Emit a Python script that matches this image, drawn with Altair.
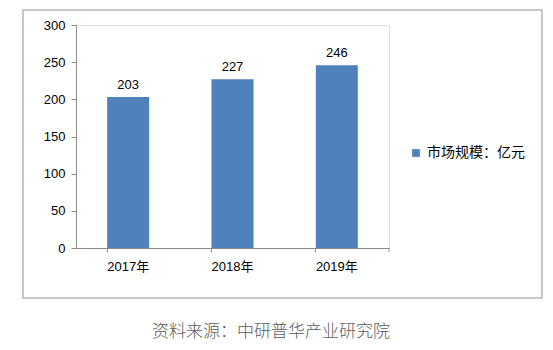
import altair as alt
import pandas as pd

years = ["2017年", "2018年", "2019年"]
values = [203, 227, 246]
series_name = "市场规模：亿元"
source_note = "资料来源：中研普华产业研究院"
y_ticks = [0, 50, 100, 150, 200, 250, 300]

df = pd.DataFrame({"year": years, "value": values, "series": [series_name] * 3})

FONT = "Liberation Sans, Noto Sans CJK SC, sans-serif"
CJK = "Noto Sans CJK SC"

base = alt.Chart(df)

x_enc = alt.X("year:N", sort=years, title=None,
              scale=alt.Scale(paddingInner=0.6, paddingOuter=0.3),
              axis=alt.Axis(labelAngle=0, labelFontSize=13, labelColor="#000000",
                            labelFont=FONT, labelPadding=8, domainColor="#8c8c8c",
                            tickColor="#8c8c8c", tickSize=4, bandPosition=0,
                            grid=False))
y_enc = alt.Y("value:Q", title=None,
              scale=alt.Scale(domain=[0, 300], nice=False),
              axis=alt.Axis(values=y_ticks, tickCount=7, labelOverlap=False,
                            labelFontSize=13, labelColor="#000000", labelFont=FONT,
                            labelPadding=6, domainColor="#8c8c8c",
                            tickColor="#8c8c8c", tickSize=5, grid=False))

frame = alt.Chart(pd.DataFrame({"a": [0]})).mark_rect(
    fill=None, stroke="#b5b5b5", strokeWidth=1.5
).encode(x=alt.value(-53), x2=alt.value(466), y=alt.value(-15), y2=alt.value(273))

end_tick = alt.Chart(pd.DataFrame({"a": [0]})).mark_rule(color="#8c8c8c").encode(
    x=alt.value(313), y=alt.value(223), y2=alt.value(227)
)

bars = base.mark_bar(size=42).encode(
    x=x_enc, y=y_enc,
    color=alt.Color("series:N", scale=alt.Scale(range=["#4F81BD"]), title=None,
                    legend=alt.Legend(orient="none", legendX=333, legendY=121,
                                      symbolType="square", symbolSize=60,
                                      labelFontSize=14, labelFont=CJK,
                                      labelColor="#000000", symbolStrokeWidth=0))
)

labels = base.mark_text(dy=-12, fontSize=13, font=FONT, color="#000000").encode(
    x=alt.X("year:N", sort=years), y="value:Q", text="value:Q"
)

note = alt.Chart(pd.DataFrame({"t": [source_note]})).mark_text(
    fontSize=17, font=CJK, color="#5a5a5a", fontWeight=300
).encode(x=alt.value(195), y=alt.value(307), text="t:N")

chart = alt.layer(frame, bars, labels, end_tick, note).properties(
    width=313, height=223,
    autosize=alt.AutoSizeParams(type="none"),
    padding={"left": 76, "top": 25, "right": 164, "bottom": 102},
).configure_view(stroke=None).configure(background="#ffffff")

chart.save("out.html", embed_options={"renderer": "svg", "actions": False})
